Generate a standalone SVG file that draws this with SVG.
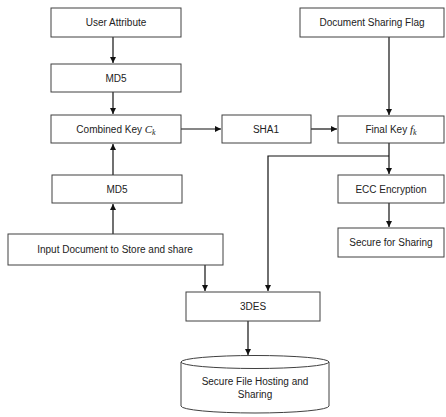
<svg xmlns="http://www.w3.org/2000/svg" width="446" height="417" viewBox="0 0 446 417">
<style>
.box{fill:#fff;stroke:#404040;stroke-width:1}
.t{font-family:"Liberation Sans",Arial,sans-serif;font-size:10px;fill:#222;text-anchor:middle}
.m{font-family:"Liberation Serif","Times New Roman",serif;font-style:italic}
.c{fill:none;stroke:#111;stroke-width:1.2}
</style>
<defs>
<marker id="ah" markerUnits="userSpaceOnUse" markerWidth="7" markerHeight="7" refX="6" refY="3" orient="auto">
<path d="M0,0 L6,3 L0,6 z" fill="#111"/>
</marker>
</defs>
<rect width="446" height="417" fill="#fff"/>
<g id="connectors">
<path class="c" d="M113,37 V63" marker-end="url(#ah)"/>
<path class="c" d="M113,92 V114" marker-end="url(#ah)"/>
<path class="c" d="M113,175 V144" marker-end="url(#ah)"/>
<path class="c" d="M113,234 V204" marker-end="url(#ah)"/>
<path class="c" d="M181,129 H221" marker-end="url(#ah)"/>
<path class="c" d="M311,129 H337" marker-end="url(#ah)"/>
<path class="c" d="M389,37 V115" marker-end="url(#ah)"/>
<path class="c" d="M389,143 V174" marker-end="url(#ah)"/>
<path class="c" d="M389,156 H268 V291" marker-end="url(#ah)"/>
<path class="c" d="M389,203 V227" marker-end="url(#ah)"/>
<path class="c" d="M205,265 V291" marker-end="url(#ah)"/>
<path class="c" d="M248,321 V355" marker-end="url(#ah)"/>
</g>
<g id="user-attribute"><rect class="box" x="51" y="8" width="130" height="29"/><text class="t" x="116" y="26">User Attribute</text></g>
<g id="md5-top"><rect class="box" x="51" y="64" width="130" height="28"/><text class="t" x="116" y="82">MD5</text></g>
<g id="combined-key"><rect class="box" x="51" y="115" width="130" height="28"/><text class="t" x="116" y="133">Combined Key <tspan class="m" font-size="11">C</tspan><tspan class="m" font-size="8" dy="2">k</tspan></text></g>
<g id="sha1"><rect class="box" x="222" y="115" width="89" height="28"/><text class="t" x="266" y="133">SHA1</text></g>
<g id="doc-sharing-flag"><rect class="box" x="300" y="8" width="144" height="29"/><text class="t" x="372" y="26">Document Sharing Flag</text></g>
<g id="final-key"><rect class="box" x="338" y="116" width="106" height="27"/><text class="t" x="391" y="133">Final Key <tspan class="m" font-size="11">f</tspan><tspan class="m" font-size="8" dy="2">k</tspan></text></g>
<g id="ecc"><rect class="box" x="338" y="175" width="106" height="28"/><text class="t" x="391" y="193">ECC Encryption</text></g>
<g id="secure-sharing"><rect class="box" x="338" y="228" width="106" height="29"/><text class="t" x="391" y="246">Secure for Sharing</text></g>
<g id="md5-bottom"><rect class="box" x="52" y="175" width="130" height="28"/><text class="t" x="117" y="193">MD5</text></g>
<g id="input-doc"><rect class="box" x="8" y="234" width="215" height="31"/><text class="t" x="115" y="253">Input Document to Store and share</text></g>
<g id="3des"><rect class="box" x="186" y="292" width="134" height="29"/><text class="t" x="253" y="310">3DES</text></g>
<g id="storage">
<path class="box" d="M181,362 V406 A74,7 0 0 0 329,406 V362"/>
<ellipse class="box" cx="255" cy="362" rx="74" ry="6.5"/>
<text class="t" x="255" y="385">Secure File Hosting and</text>
<text class="t" x="255" y="398">Sharing</text>
</g>
</svg>
